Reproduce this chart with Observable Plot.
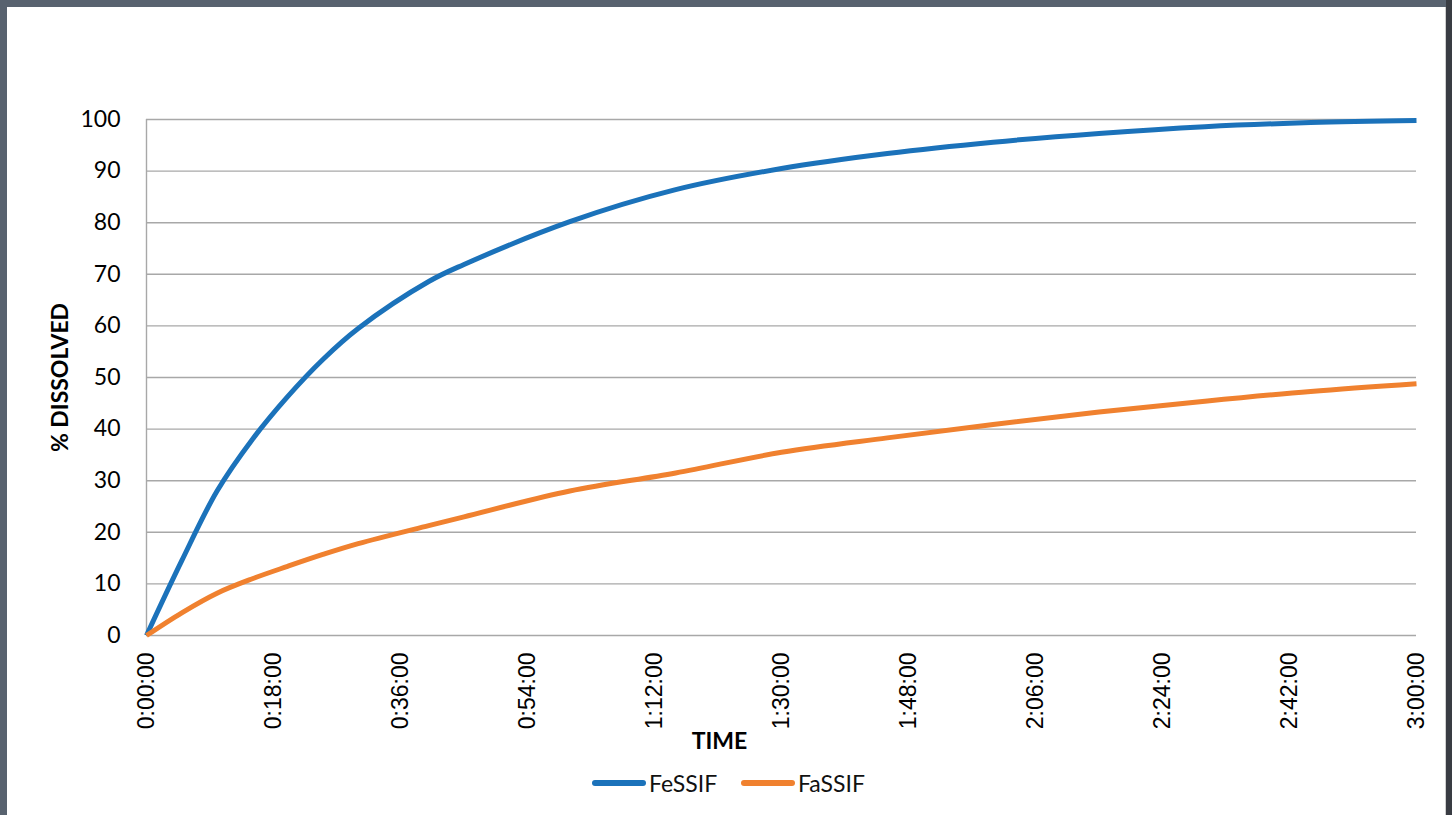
<!DOCTYPE html>
<html>
<head>
<meta charset="utf-8">
<script src="https://cdn.jsdelivr.net/npm/d3@7"></script>
<script src="https://cdn.jsdelivr.net/npm/@observablehq/plot@0.6"></script>
<style>
  html, body { margin: 0; padding: 0; width: 1452px; height: 815px; overflow: hidden; background: #58626f; }
  #rightband { position: absolute; left: 1446px; top: 0; width: 6px; height: 815px; background: #393c43; }
  #card { position: absolute; left: 7px; top: 7px; width: 1438px; height: 808px; background: #fff; border-right: 1px solid #cfcfcf; }
  #chart { position: absolute; left: 0; top: 0; }
  #legend { position: absolute; top: 762px; left: 0; width: 1438px; height: 28px; font-family: Lato, "Noto Sans", sans-serif; font-size: 23px; color: #111; }
  .item { position: absolute; top: 0; display: flex; align-items: center; height: 28px; }
  .swatch { width: 54px; height: 6px; border-radius: 3px; margin-right: 3px; }
</style>
</head>
<body>
<div id="rightband"></div>
<div id="card">
  <div id="chart"></div>
  <div id="legend"></div>
</div>
<script>
// data (minutes since start, % dissolved)
const times  = [0, 5, 10, 15, 20, 25, 30, 40, 45, 60, 75, 90, 105, 120, 135, 150, 165, 180];
const fessif = [0, 14.5, 28, 38, 46.3, 53.5, 59.5, 68.6, 71.9, 80.2, 86.4, 90.5, 93.4, 95.6, 97.3, 98.6, 99.4, 99.8];
const fassif = [0, 4.4, 8.2, 11, 13.4, 15.7, 17.8, 21.3, 23, 28, 31.5, 35.5, 38.3, 40.9, 43.3, 45.4, 47.3, 48.8];
const seriesNames = ["FeSSIF", "FaSSIF"];
const seriesColors = ["#1b72ba", "#f0812f"];
const xTicks = [0, 18, 36, 54, 72, 90, 108, 126, 144, 162, 180];
const yTicks = [0, 10, 20, 30, 40, 50, 60, 70, 80, 90, 100];

const rows = [];
[fessif, fassif].forEach((vals, i) => {
  times.forEach((t, j) => rows.push({series: seriesNames[i], t, v: vals[j]}));
});

const fmt = (m) => {
  const h = Math.floor(m / 60), mm = m % 60;
  return `${h}:${String(mm).padStart(2, "0")}:00`;
};

const plot = Plot.plot({
  width: 1438,
  height: 760,
  marginLeft: 139,
  marginRight: 29,
  marginTop: 112,
  marginBottom: 132,
  style: { fontFamily: "Lato, 'Noto Sans', sans-serif", color: "#000", background: "transparent" },
  x: { domain: [0, 180] },
  y: { domain: [0, 100] },
  color: { domain: seriesNames, range: seriesColors },
  marks: [
    Plot.ruleY(yTicks, { stroke: "#a8a8a8", strokeWidth: 1.4 }),
    Plot.ruleX([0], { stroke: "#a8a8a8", strokeWidth: 1.4 }),
    Plot.axisY({ ticks: yTicks, tickSize: 0, tickPadding: 26, fontSize: 23, fontFamily: "Lato", label: null }),
    Plot.axisX({ ticks: xTicks, tickFormat: fmt, tickRotate: -90, tickSize: 0, tickPadding: 17, fontSize: 23, fontFamily: "Liberation Sans", label: null }),
    Plot.line(rows, { x: "t", y: "v", z: "series", stroke: "series", strokeWidth: 5, curve: "catmull-rom", strokeLinecap: "butt" }),
    Plot.text(["% DISSOLVED"], { frameAnchor: "left", textAnchor: "middle", rotate: -90, dx: -86, fontWeight: "bold", fontSize: 23, fontFamily: "Lato", fill: "#000" }),
    Plot.text(["TIME"], { frameAnchor: "bottom", dx: -62, dy: 113, fontWeight: "bold", fontSize: 23, fontFamily: "Lato", fill: "#000" })
  ]
});
document.getElementById("chart").appendChild(plot);

const legend = document.getElementById("legend");
const lefts = [585, 734];
seriesNames.forEach((name, i) => {
  const it = document.createElement("div");
  it.className = "item";
  it.style.left = lefts[i] + "px";
  const sw = document.createElement("div");
  sw.className = "swatch";
  sw.style.background = seriesColors[i];
  const tx = document.createElement("span");
  tx.textContent = name;
  it.appendChild(sw);
  it.appendChild(tx);
  legend.appendChild(it);
});
</script>
</body>
</html>
